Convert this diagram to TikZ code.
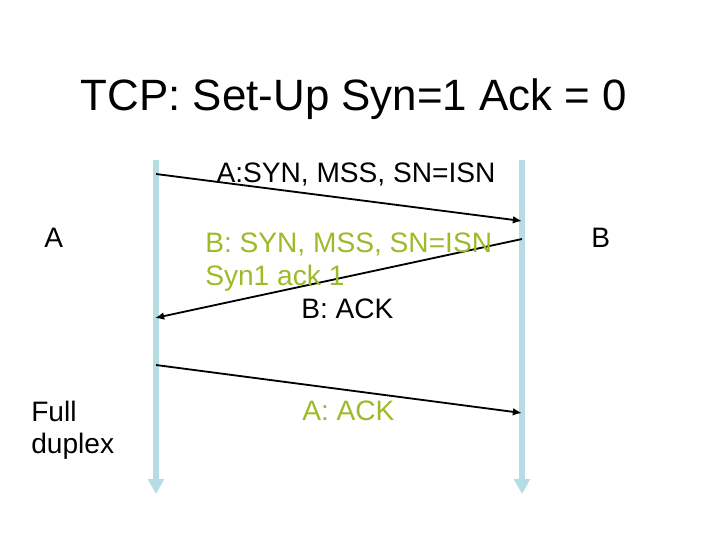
\documentclass[tikz,border=0pt]{standalone}
\usepackage{fontspec}
\setmainfont{Liberation Sans}
\usetikzlibrary{arrows.meta}

\definecolor{lifeblue}{RGB}{182,221,228}
\definecolor{msggreen}{RGB}{155,187,40}

\begin{document}
\begin{tikzpicture}[
        x=0.025cm, y=-0.025cm,
        lifeline/.style={line width=4.3pt, lifeblue, -{Triangle[length=10.5pt, width=11pt]}},
        msg/.style={line width=1.3pt, -{Latex[length=6.5pt, width=5.5pt]}},
        lbl/.style={font=\fontsize{20}{23}\selectfont, inner sep=0pt},
        greenlbl/.style={lbl, text=msggreen}
    ]
        \useasboundingbox (0,0) rectangle (720,540);

        % Title
        \node[font=\fontsize{31.2}{36}\selectfont, inner sep=0pt, anchor=base] (title) at (354,110) {TCP: Set-Up Syn=1 Ack = 0};

        % Lifelines
        \coordinate (atop) at (156,160);
        \coordinate (abot) at (156,494);
        \coordinate (btop) at (522,160);
        \coordinate (bbot) at (522,494);
        \draw[lifeline] (atop) -- (abot);
        \draw[lifeline] (btop) -- (bbot);

        % Hosts
        \node[lbl, anchor=base west] (hosta) at (44,247) {A};
        \node[lbl, anchor=base west] (hostb) at (591,247) {B};
        \node[lbl, anchor=base west] (full) at (31,421) {Full};
        \node[lbl, anchor=base west] (duplex) at (31,453) {duplex};

        % Message ends
        \coordinate (a1) at (156,174);
        \coordinate (b1) at (522,221);
        \coordinate (b2) at (522,239);
        \coordinate (a2) at (155,318);
        \coordinate (a3) at (156,365);
        \coordinate (b3) at (522,413);

        % Messages
        \draw[msg] (a1) -- (b1);
        \draw[msg] (b2) -- (a2);
        \draw[msg] (a3) -- (b3);

        % Labels
        \node[lbl, anchor=base] (synA) at (356,182) {A:SYN, MSS, SN=ISN};
        \node[greenlbl, anchor=base west] (synB) at (205,252) {B: SYN, MSS, SN=ISN};
        \node[greenlbl, anchor=base west] (synack) at (205,285) {Syn1 ack 1};
        \node[lbl, anchor=base west] (ackB) at (301,318) {B: ACK};
        \node[greenlbl, anchor=base west] (ackA) at (302,420) {A: ACK};

    \end{tikzpicture}
\end{document}
